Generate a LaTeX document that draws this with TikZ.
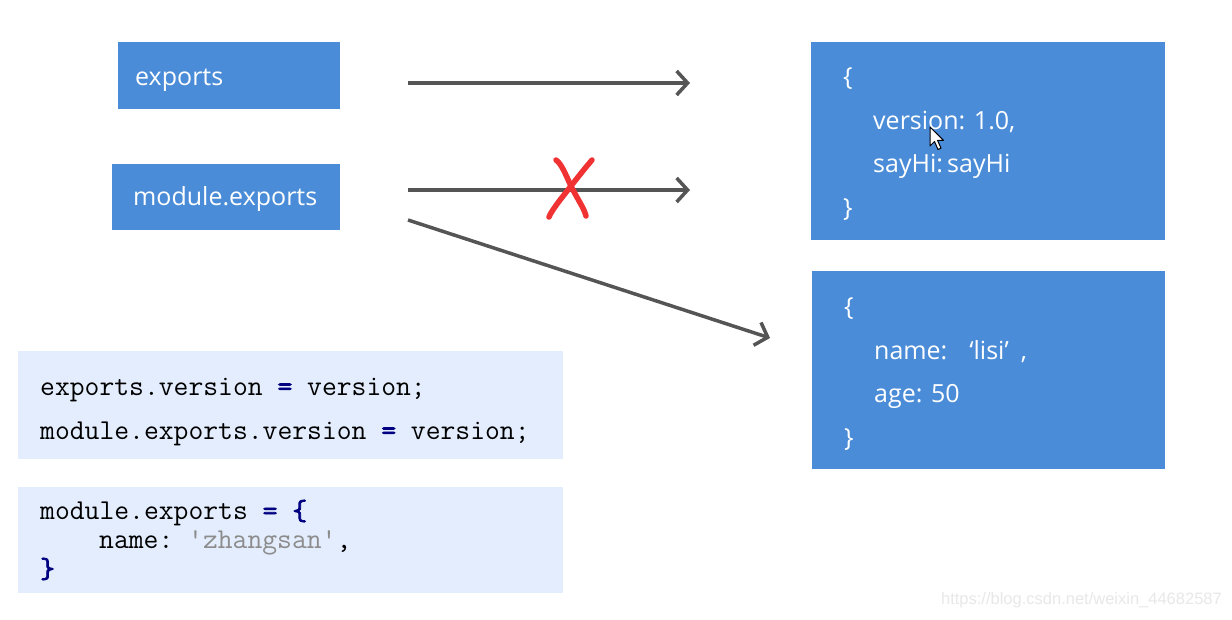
\documentclass[tikz,border=0pt]{standalone}
\usepackage{fontspec}
\setmainfont{Open Sans}
\setmonofont{Latin Modern Mono}
\newfontfamily\codebold[FakeBold=2.5]{Latin Modern Mono}
\newfontfamily\wmfont{Liberation Sans}
\usetikzlibrary{arrows.meta}
\definecolor{boxblue}{RGB}{74,140,215}
\definecolor{codebg}{RGB}{227,237,253}
\definecolor{arrowgray}{RGB}{85,85,85}
\definecolor{navy}{RGB}{0,0,128}
\definecolor{strgray}{RGB}{140,140,140}
\definecolor{xred}{RGB}{240,50,50}
\definecolor{wmgray}{RGB}{232,232,232}
\tikzset{
  bluebox/.style={fill=boxblue, draw=none, inner sep=0pt, anchor=north west},
  codebox/.style={fill=codebg, draw=none, inner sep=0pt, anchor=north west},
  bluetext/.style={text=white, inner sep=0pt, anchor=west, font=\fontsize{25}{30}\selectfont},
  objtext/.style={text=white, inner sep=0pt, anchor=west, align=left, font=\fontsize{25}{43.5}\selectfont},
  codetext/.style={text=black, inner sep=0pt, anchor=west, align=left},
  conn/.style={draw=arrowgray, line width=3.5pt, -{Straight Barb[length=11pt, width=24pt, line width=3.5pt]}},
  xstroke/.style={draw=xred, line width=5.5pt, line cap=round, line join=round}
}
\newcommand{\eqop}{{\codebold\color{navy}=}}
\begin{document}
\begin{tikzpicture}[x=1pt,y=-1pt]
\useasboundingbox (0,0) rectangle (1232,619);
\fill[white] (0,0) rectangle (1232,619);

% left blue boxes
\node[bluebox, minimum width=222pt, minimum height=67pt] (expbox) at (118,42) {};
\node[bluetext] (exptxt) at (135,80) {exports};
\node[bluebox, minimum width=228pt, minimum height=66pt] (modbox) at (112,164) {};
\node[bluetext] (modtxt) at (133,199) {module.exports};

% right object boxes
\node[bluebox, minimum width=354pt, minimum height=198pt] (objA) at (811,42) {};
\node[objtext] (objAtxt) at (843,144) {\{\\\hspace*{30pt}version: 1.0,\\\hspace*{30pt}sayHi:\,sayHi\\\}};
\node[bluebox, minimum width=353pt, minimum height=198pt] (objB) at (812,271) {};
\node[objtext] (objBtxt) at (844,374) {\{\\\hspace*{30pt}name:\hspace{22pt}‘lisi’\hspace{12pt},\\\hspace*{30pt}age: 50\\\}};

% code boxes
\node[codebox, minimum width=545pt, minimum height=108pt] (codeA) at (18,351) {};
\node[codetext, font=\ttfamily\fontsize{28.8}{44}\selectfont] (codeAtxt) at (40,412) {exports.version \eqop{} version;\\module.exports.version \eqop{} version;};
\node[codebox, minimum width=545pt, minimum height=106pt] (codeB) at (18,487) {};
\node[codetext, font=\ttfamily\fontsize{28.8}{29}\selectfont] (codeBtxt) at (40,540) {module.exports \eqop{} {\codebold\color{navy}\{}\\\hspace*{59pt}name: {\color{strgray}'zhangsan'},\\{\codebold\color{navy}\}}};

% connectors
\coordinate (a1s) at (408,83);
\coordinate (a1e) at (690,83);
\coordinate (a2s) at (408,190);
\coordinate (a2e) at (690,190);
\coordinate (a3s) at (408,220);
\coordinate (a3e) at (770,338);
\draw[conn] (a1s) -- (a1e);
\draw[conn] (a2s) -- (a2e);
\draw[conn] (a3s) -- (a3e);

% red cross
\draw[xstroke] (556,160) .. controls (562,164) and (566,176) .. (572,188) .. controls (578,200) and (584,208) .. (586,216);
\draw[xstroke] (592,160) .. controls (580,174) and (568,190) .. (560,200) .. controls (554,208) and (550,214) .. (549,217);

% mouse cursor
\draw[fill=white, draw=black, line width=1pt, line join=round] (930,127) -- (930,146) -- (934.5,141.5) -- (938,149.5) -- (941,148.2) -- (937.6,140.4) -- (943.5,140.4) -- cycle;

% watermark
\node[inner sep=0pt, anchor=east, text=wmgray, font=\wmfont\fontsize{16.5}{18}\selectfont] (wm) at (1222,600) {https://blog.csdn.net/weixin\_44682587};
\end{tikzpicture}
\end{document}
